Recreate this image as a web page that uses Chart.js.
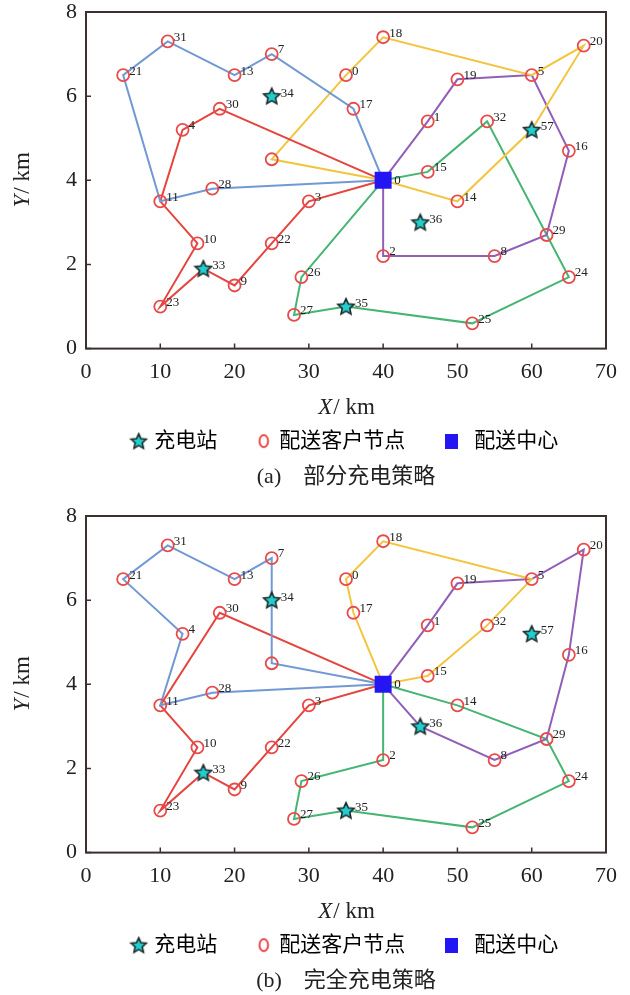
<!DOCTYPE html>
<html>
<head>
<meta charset="utf-8">
<script src="https://cdn.jsdelivr.net/npm/chart.js@4.4.1/dist/chart.umd.min.js"></script>
<style>
  html, body { margin: 0; padding: 0; background: #fff; overflow: hidden; }
  .box { position: relative; width: 630px; height: 504px; }
</style>
</head>
<body>
<div class="box"><canvas id="chart-a"></canvas></div>
<div class="box"><canvas id="chart-b"></canvas></div>
<script>
// Nós dos clientes (o nó "" não tem rótulo na figura)
const customerNames = ["0", "1", "2", "3", "4", "5", "7", "8", "9", "10", "11", "13", "14", "15", "16", "17",
  "18", "19", "20", "21", "22", "23", "24", "25", "26", "27", "28", "29", "30", "31", "32", ""];
const customerX = [35, 46, 40, 30, 13, 60, 25, 55, 20, 15, 10, 20, 50, 46, 65, 36,
  40, 50, 67, 5, 25, 10, 65, 52, 29, 28, 17, 62, 18, 11, 54, 25];
const customerY = [6.5, 5.4, 2.2, 3.5, 5.2, 6.5, 7.0, 2.2, 1.5, 2.5, 3.5, 6.5, 3.5, 4.2, 4.7, 5.7,
  7.4, 6.4, 7.2, 6.5, 2.5, 1.0, 1.7, 0.6, 1.7, 0.8, 3.8, 2.7, 5.7, 7.3, 5.4, 4.5];

// Estações de recarga
const stationNames = ["33", "34", "35", "36", "57"];
const stationX = [15.8, 25, 35, 45, 60];
const stationY = [1.9, 6.0, 1.0, 3.0, 5.2];

// Centro de distribuição
const depotName = "0";
const depotX = [40];
const depotY = [4];

// Rotas (a) 部分充电策略
const routeA_blue = ["D", "28", "11", "21", "31", "13", "7", "17", "D"];
const routeA_red = ["D", "30", "4", "11", "10", "23", "33", "9", "22", "3", "D"];
const routeA_yellow = ["D", "", "0", "18", "5", "20", "57", "14", "D"];
const routeA_purple = ["D", "1", "19", "5", "16", "29", "8", "2", "D"];
const routeA_green = ["D", "15", "32", "24", "25", "35", "27", "26", "D"];

// Rotas (b) 完全充电策略
const routeB_blue = ["D", "28", "11", "4", "21", "31", "13", "7", "34", "", "D"];
const routeB_red = ["D", "30", "11", "10", "23", "33", "9", "22", "3", "D"];
const routeB_yellow = ["D", "17", "0", "18", "5", "32", "15", "D"];
const routeB_purple = ["D", "1", "19", "5", "20", "16", "29", "8", "36", "D"];
const routeB_green = ["D", "14", "29", "24", "25", "35", "27", "26", "2", "D"];

const xTicks = [0, 10, 20, 30, 40, 50, 60, 70];
const yTicks = [0, 2, 4, 6, 8];

const C = {
  blue: "#7299d3", red: "#e5453f", yellow: "#f3c53f", purple: "#925fb8", green: "#46b573",
  node: "#e84a4a", depot: "#2416f2", star: "#22cdcd", starEdge: "#1c2a2a",
  frame: "#3a3030", text: "#222",
};
const SERIF = "'Liberation Serif', 'Times New Roman', serif";
const CJK = "'Liberation Serif', 'Noto Sans CJK SC', sans-serif";

const pos = {};
customerNames.forEach((n, i) => { pos[n] = { x: customerX[i], y: customerY[i] }; });
stationNames.forEach((n, i) => { pos[n] = { x: stationX[i], y: stationY[i] }; });
pos.D = { x: depotX[0], y: depotY[0] };

function starImage(size, inner) {
  const c = document.createElement("canvas");
  c.width = c.height = size;
  const g = c.getContext("2d");
  const cx = size / 2, cy = size / 2 + 0.6, R = size / 2 - 1.5, r = R * inner;
  g.beginPath();
  for (let i = 0; i < 10; i++) {
    const a = -Math.PI / 2 + i * Math.PI / 5, rad = i % 2 ? r : R;
    g.lineTo(cx + rad * Math.cos(a), cy + rad * Math.sin(a));
  }
  g.closePath();
  g.fillStyle = C.star; g.fill();
  g.lineWidth = 1.6; g.strokeStyle = C.starEdge; g.stroke();
  return c;
}
function ringImage() {
  const c = document.createElement("canvas");
  c.width = 14; c.height = 16;
  const g = c.getContext("2d");
  g.beginPath(); g.ellipse(7, 8, 4.3, 6, 0, 0, Math.PI * 2);
  g.lineWidth = 2; g.strokeStyle = C.node; g.stroke();
  return c;
}
function squareImage() {
  const c = document.createElement("canvas");
  c.width = 13; c.height = 15;
  const g = c.getContext("2d");
  g.fillStyle = C.depot; g.fillRect(0, 0, 13, 15);
  return c;
}
const STAR = starImage(20, 0.47);
const STAR_LEG = starImage(19, 0.47);
const RING_LEG = ringImage();
const SQ_LEG = squareImage();

// moldura completa + marcas de escala para dentro
const frame = {
  id: "frame",
  beforeDatasetsDraw(chart) {
    const { ctx, chartArea: a, scales: { x, y } } = chart;
    ctx.save();
    ctx.strokeStyle = C.frame;
    ctx.lineWidth = 1.5;
    ctx.beginPath();
    xTicks.forEach((v) => { const p = x.getPixelForValue(v); ctx.moveTo(p, a.bottom); ctx.lineTo(p, a.bottom - 5); });
    yTicks.forEach((v) => { const p = y.getPixelForValue(v); ctx.moveTo(a.left, p); ctx.lineTo(a.left + 5, p); });
    ctx.stroke();
    ctx.lineWidth = 2;
    ctx.strokeRect(a.left, a.top, a.right - a.left, a.bottom - a.top);
    ctx.restore();
  },
  afterDraw(chart) {
    // títulos dos eixos: letra em itálico + "/ km"
    const { ctx, chartArea: a } = chart;
    ctx.save();
    ctx.fillStyle = C.text;
    ctx.textBaseline = "middle";
    const draw = (letter, cx, cy) => {
      ctx.font = `italic 23px ${SERIF}`;
      const w1 = ctx.measureText(letter).width;
      ctx.font = `23px ${SERIF}`;
      const w2 = ctx.measureText("/ km").width;
      let x0 = cx - (w1 + w2) / 2;
      ctx.font = `italic 23px ${SERIF}`;
      ctx.fillText(letter, x0, cy);
      ctx.font = `23px ${SERIF}`;
      ctx.fillText("/ km", x0 + w1 + 1, cy);
    };
    draw("X", (a.left + a.right) / 2, a.bottom + 59);
    ctx.translate(23, (a.top + a.bottom) / 2);
    ctx.rotate(-Math.PI / 2);
    draw("Y", 0, 0);
    ctx.restore();
  },
};

const nodeLabels = {
  id: "nodeLabels",
  afterDatasetsDraw(chart) {
    const { ctx, scales: { x, y } } = chart;
    ctx.save();
    ctx.font = `13px ${SERIF}`;
    ctx.fillStyle = C.text;
    const put = (t, vx, vy, dx, dy) => {
      if (t) ctx.fillText(t, x.getPixelForValue(vx) + dx, y.getPixelForValue(vy) + dy);
    };
    customerNames.forEach((n, i) => put(n, customerX[i], customerY[i], 6, -4));
    stationNames.forEach((n, i) => put(n, stationX[i], stationY[i], 9, -3));
    put(depotName, depotX[0], depotY[0], 11, 0);
    ctx.restore();
  },
};

const toPoints = (path) => path.map((k) => pos[k]);
const routeDs = (path, color) => ({
  data: toPoints(path), showLine: true, borderColor: color, borderWidth: 2,
  pointRadius: 0, pointHoverRadius: 0, fill: false, tension: 0,
});

function makeChart(id, routes, caption) {
  new Chart(document.getElementById(id), {
    type: "scatter",
    data: {
      datasets: [
        { label: "stations", data: stationX.map((v, i) => ({ x: v, y: stationY[i] })), pointStyle: STAR, pointRadius: 9 },
        { label: "customers", data: customerX.map((v, i) => ({ x: v, y: customerY[i] })), pointStyle: "circle",
          pointRadius: 6, borderColor: C.node, backgroundColor: "rgba(0,0,0,0)", borderWidth: 1.8 },
        { label: "depot", data: depotX.map((v, i) => ({ x: v, y: depotY[i] })), pointStyle: "rect",
          pointRadius: 12, backgroundColor: C.depot, borderColor: C.depot, borderWidth: 0 },
        ...routes.map(([path, color]) => routeDs(path, color)),
      ],
    },
    options: {
      animation: false, responsive: true, maintainAspectRatio: false,
      layout: { padding: { top: 9, right: 24, left: 0, bottom: 14 } },
      scales: {
        x: {
          type: "linear", min: 0, max: 70,
          ticks: { stepSize: 10, padding: 10, color: C.text, font: { family: SERIF, size: 22 } },
          grid: { display: false, drawTicks: false }, border: { display: false },
          afterFit: (s) => { s.height = 72; },
        },
        y: {
          type: "linear", min: 0, max: 8,
          ticks: { stepSize: 2, padding: 9, color: C.text, font: { family: SERIF, size: 22, lineHeight: 0.8 } },
          grid: { display: false, drawTicks: false }, border: { display: false },
          afterFit: (s) => { s.width = 86; s.paddingTop = 0; },
        },
      },
      plugins: {
        tooltip: { enabled: false },
        legend: {
          position: "bottom", fullSize: false,
          labels: {
            usePointStyle: true, boxWidth: 10, boxHeight: 21, padding: 10, color: C.text,
            font: { family: CJK, size: 21 },
            generateLabels: () => [
              { text: "充电站\u3000\u2002", pointStyle: STAR_LEG, fillStyle: C.star, strokeStyle: C.starEdge, lineWidth: 0, hidden: false, datasetIndex: 0 },
              { text: "配送客户节点\u3000\u2002", pointStyle: RING_LEG, fillStyle: "#fff", strokeStyle: C.node, lineWidth: 0, hidden: false, datasetIndex: 1 },
              { text: "\u2004配送中心", pointStyle: SQ_LEG, fillStyle: C.depot, strokeStyle: C.depot, lineWidth: 0, hidden: false, datasetIndex: 2 },
            ],
          },
        },
        title: {
          display: true, position: "bottom", fullSize: false, text: caption, color: C.text,
          font: { family: CJK, size: 22, weight: "normal" }, padding: { top: 2, bottom: 0 },
        },
      },
    },
    plugins: [frame, nodeLabels],
  });
}

makeChart("chart-a", [
  [routeA_blue, C.blue], [routeA_red, C.red], [routeA_yellow, C.yellow],
  [routeA_purple, C.purple], [routeA_green, C.green],
], "(a)\u2003部分充电策略");

makeChart("chart-b", [
  [routeB_blue, C.blue], [routeB_red, C.red], [routeB_yellow, C.yellow],
  [routeB_purple, C.purple], [routeB_green, C.green],
], "(b)\u2003完全充电策略");
</script>
</body>
</html>
